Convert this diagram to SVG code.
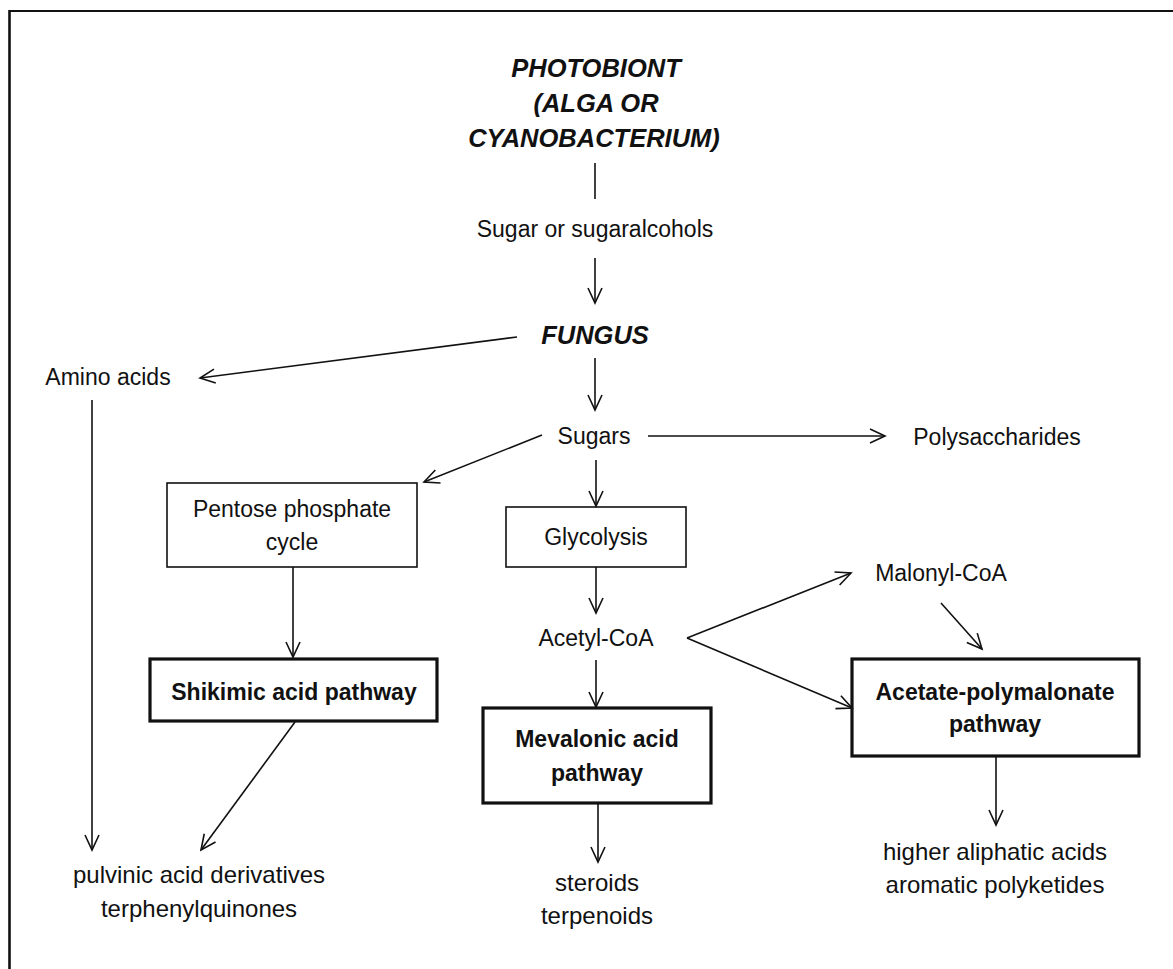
<svg xmlns="http://www.w3.org/2000/svg" width="1173" height="969" viewBox="0 0 1173 969">
<style>
text{font-family:"Liberation Sans",Arial,sans-serif;fill:#111;text-anchor:middle;font-size:23px}
.title{font-weight:bold;font-style:italic;font-size:25.5px}
.bold{font-weight:bold}
.big{font-size:24px}
.thin{fill:#fff;stroke:#111;stroke-width:1.6}
.thick{fill:#fff;stroke:#111;stroke-width:3.2}
.c{fill:none;stroke:#111;stroke-width:1.6}
.frame{fill:none;stroke:#111}
</style>
<defs>
<marker id="ah" markerUnits="userSpaceOnUse" markerWidth="20" markerHeight="20" viewBox="-17 -10 20 20" refX="0" refY="0" orient="auto">
<path d="M-15,-7 L0,0 L-15,7" fill="none" stroke="#111" stroke-width="1.6"/>
</marker>
</defs>
<rect width="1173" height="969" fill="#fff"/>
<g id="frame">
<line class="frame" x1="9" y1="11" x2="1173" y2="11" stroke-width="2"/>
<line class="frame" x1="9.5" y1="10" x2="9.5" y2="969" stroke-width="2.6"/>
</g>
<g id="photobiont">
<text class="title" x="596" y="77">PHOTOBIONT</text>
<text class="title" x="596" y="112">(ALGA OR</text>
<text class="title" x="594" y="147">CYANOBACTERIUM)</text>
</g>
<g id="sugar-alcohols"><text x="595" y="237">Sugar or sugaralcohols</text></g>
<g id="fungus"><text class="title" x="595" y="344">FUNGUS</text></g>
<g id="amino-acids"><text x="108" y="385">Amino acids</text></g>
<g id="sugars"><text x="594" y="444">Sugars</text></g>
<g id="polysaccharides"><text x="997" y="445">Polysaccharides</text></g>
<g id="pentose">
<rect class="thin" x="167" y="483" width="250" height="84"/>
<text x="292" y="517">Pentose phosphate</text>
<text x="292" y="550">cycle</text>
</g>
<g id="glycolysis">
<rect class="thin" x="506" y="507" width="180" height="60"/>
<text x="596" y="545">Glycolysis</text>
</g>
<g id="acetyl-coa"><text x="596" y="646">Acetyl-CoA</text></g>
<g id="malonyl-coa"><text x="941" y="581">Malonyl-CoA</text></g>
<g id="shikimic">
<rect class="thick" x="150" y="659" width="287" height="62"/>
<text class="bold" x="294" y="700">Shikimic acid pathway</text>
</g>
<g id="mevalonic">
<rect class="thick" x="483" y="708" width="228" height="95"/>
<text class="bold" x="597" y="747">Mevalonic acid</text>
<text class="bold" x="597" y="781">pathway</text>
</g>
<g id="acetate">
<rect class="thick" x="852" y="659" width="287" height="97"/>
<text class="bold" x="995" y="700">Acetate-polymalonate</text>
<text class="bold" x="995" y="732">pathway</text>
</g>
<g id="pulvinic">
<text class="big" x="199" y="883">pulvinic acid derivatives</text>
<text class="big" x="199" y="917">terphenylquinones</text>
</g>
<g id="steroids">
<text class="big" x="597" y="891">steroids</text>
<text class="big" x="597" y="924">terpenoids</text>
</g>
<g id="aliphatic">
<text class="big" x="995" y="860">higher aliphatic acids</text>
<text class="big" x="995" y="893">aromatic polyketides</text>
</g>
<g id="connectors">
<line class="c" x1="595" y1="163" x2="595" y2="199"/>
<line class="c" x1="595" y1="258" x2="595" y2="303" marker-end="url(#ah)"/>
<line class="c" x1="517" y1="337" x2="200" y2="378" marker-end="url(#ah)"/>
<line class="c" x1="595" y1="358" x2="595" y2="410" marker-end="url(#ah)"/>
<line class="c" x1="648" y1="436" x2="885" y2="436" marker-end="url(#ah)"/>
<line class="c" x1="542" y1="435" x2="424" y2="482" marker-end="url(#ah)"/>
<line class="c" x1="596" y1="460" x2="596" y2="506" marker-end="url(#ah)"/>
<line class="c" x1="596" y1="567" x2="596" y2="613" marker-end="url(#ah)"/>
<line class="c" x1="596" y1="660" x2="596" y2="707" marker-end="url(#ah)"/>
<line class="c" x1="687" y1="638" x2="851" y2="573" marker-end="url(#ah)"/>
<line class="c" x1="687" y1="638" x2="852" y2="708" marker-end="url(#ah)"/>
<line class="c" x1="941" y1="603" x2="982" y2="649" marker-end="url(#ah)"/>
<line class="c" x1="92" y1="400" x2="92" y2="850" marker-end="url(#ah)"/>
<line class="c" x1="293" y1="567" x2="293" y2="657" marker-end="url(#ah)"/>
<line class="c" x1="295" y1="722" x2="201" y2="850" marker-end="url(#ah)"/>
<line class="c" x1="598" y1="803" x2="598" y2="862" marker-end="url(#ah)"/>
<line class="c" x1="996" y1="756" x2="996" y2="825" marker-end="url(#ah)"/>
</g>
</svg>
